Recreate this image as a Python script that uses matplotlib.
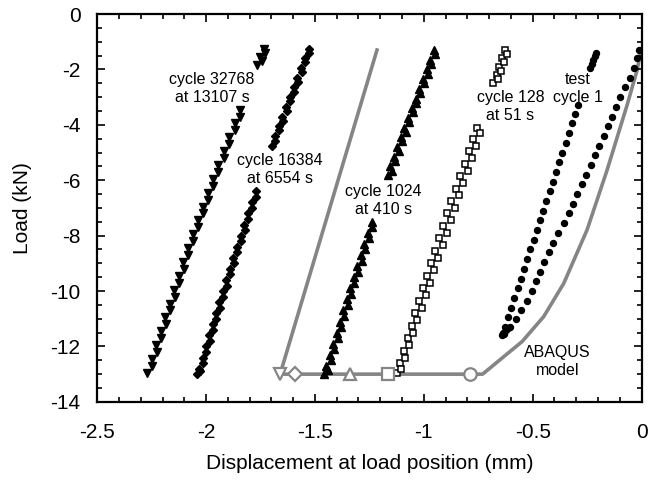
import matplotlib
matplotlib.use("Agg")
import matplotlib.pyplot as plt
from matplotlib.ticker import MultipleLocator

plt.rcParams['font.family'] = ['Liberation Sans', 'DejaVu Sans']

# cycle 32768 (loading branch / unloading branch)
c32768_xa = [-1.736, -1.750, -1.764, -1.842, -1.867, -1.893, -1.918, -1.943, -1.967, -1.991, -2.015, -2.038,
             -2.060, -2.082, -2.104, -2.125, -2.145, -2.166, -2.187, -2.208, -2.228, -2.249, -2.269]
c32768_ya = [-1.25, -1.55, -1.85, -3.45, -3.95, -4.45, -4.95, -5.45, -5.95, -6.45, -6.95, -7.45,
             -7.95, -8.45, -8.95, -9.45, -9.95, -10.45, -10.95, -11.45, -11.95, -12.45, -12.95]
c32768_xb = [-2.247, -2.226, -2.206, -2.185, -2.164, -2.144, -2.123, -2.102, -2.081, -2.059, -2.037,
             -2.014, -1.991, -1.967, -1.943, -1.918, -1.894, -1.868, -1.842, -1.745, -1.731]
c32768_yb = [-12.7, -12.2, -11.7, -11.2, -10.7, -10.2, -9.7, -9.2, -8.7, -8.2, -7.7,
             -7.2, -6.7, -6.2, -5.7, -5.2, -4.7, -4.2, -3.7, -1.7, -1.4]

# cycle 16384
c16384_xa = [-1.529, -1.547, -1.564, -1.581, -1.598, -1.616, -1.633, -1.649, -1.666, -1.682, -1.699,
             -1.772, -1.790, -1.807, -1.825, -1.841, -1.858, -1.875, -1.891, -1.908, -1.924, -1.939,
             -1.955, -1.970, -1.986, -2.001, -2.016, -2.033, -2.041]
c16384_ya = [-1.25, -1.6, -1.95, -2.3, -2.65, -3.0, -3.35, -3.7, -4.05, -4.4, -4.75,
             -6.4, -6.8, -7.2, -7.6, -8.0, -8.4, -8.8, -9.2, -9.6, -10.0, -10.4,
             -10.8, -11.2, -11.6, -12.0, -12.4, -12.8, -13.0]
c16384_xb = [-2.027, -2.015, -1.999, -1.983, -1.968, -1.953, -1.937, -1.922, -1.906, -1.890, -1.873,
             -1.857, -1.840, -1.823, -1.806, -1.789, -1.771, -1.682, -1.663, -1.646, -1.629, -1.613,
             -1.596, -1.579, -1.561, -1.544, -1.527]
c16384_yb = [-12.9, -12.6, -12.2, -11.8, -11.4, -11.0, -10.6, -10.2, -9.8, -9.4, -9.0,
             -8.6, -8.2, -7.8, -7.4, -7.0, -6.6, -4.6, -4.2, -3.85, -3.5, -3.15,
             -2.8, -2.45, -2.1, -1.75, -1.4]

# cycle 1024
c1024_xa = [-0.951, -0.970, -0.987, -1.004, -1.021, -1.038, -1.056, -1.073, -1.089, -1.105, -1.121,
            -1.137, -1.153, -1.166, -1.239, -1.256, -1.273, -1.290, -1.306, -1.322, -1.339, -1.354,
            -1.369, -1.385, -1.400, -1.415, -1.431, -1.447, -1.459]
c1024_ya = [-1.3, -1.65, -2.0, -2.35, -2.7, -3.05, -3.4, -3.75, -4.1, -4.45, -4.8,
            -5.15, -5.5, -5.8, -7.5, -7.9, -8.3, -8.7, -9.1, -9.5, -9.9, -10.3,
            -10.7, -11.1, -11.5, -11.9, -12.3, -12.7, -13.0]
c1024_xb = [-1.441, -1.427, -1.411, -1.396, -1.380, -1.365, -1.350, -1.334, -1.319, -1.303, -1.286,
            -1.270, -1.253, -1.236, -1.147, -1.132, -1.116, -1.101, -1.084, -1.068, -1.051, -1.034,
            -1.017, -0.999, -0.982, -0.965, -0.947]
c1024_yb = [-12.85, -12.5, -12.1, -11.7, -11.3, -10.9, -10.5, -10.1, -9.7, -9.3, -8.9,
            -8.5, -8.1, -7.7, -5.65, -5.3, -4.95, -4.6, -4.25, -3.9, -3.55, -3.2,
            -2.85, -2.5, -2.15, -1.8, -1.45]

# cycle 128
c128_xa = [-0.625, -0.639, -0.653, -0.666, -0.680, -0.755, -0.773, -0.793, -0.813, -0.833, -0.854,
           -0.873, -0.892, -0.911, -0.930, -0.949, -0.967, -0.985, -1.003, -1.020, -1.039, -1.056,
           -1.073, -1.090, -1.109, -1.122]
c128_ya = [-1.3, -1.6, -1.9, -2.2, -2.5, -4.1, -4.5, -4.95, -5.4, -5.85, -6.3,
           -6.75, -7.2, -7.65, -8.1, -8.55, -9.0, -9.45, -9.9, -10.35, -10.8, -11.25,
           -11.7, -12.15, -12.6, -12.95]
c128_xb = [-1.104, -1.087, -1.068, -1.049, -1.029, -1.010, -0.991, -0.972, -0.952, -0.933, -0.914,
           -0.895, -0.876, -0.856, -0.837, -0.818, -0.799, -0.780, -0.760, -0.741, -0.658, -0.645,
           -0.632, -0.619]
c128_yb = [-12.8, -12.4, -11.95, -11.5, -11.05, -10.6, -10.15, -9.7, -9.25, -8.8, -8.35,
           -7.9, -7.45, -7.0, -6.55, -6.1, -5.65, -5.2, -4.75, -4.3, -2.35, -2.05,
           -1.75, -1.45]

# test cycle 1
c1_xa = [-0.010, -0.020, -0.036, -0.055, -0.076, -0.097, -0.117, -0.137, -0.156, -0.174, -0.193,
         -0.212, -0.233, -0.254, -0.275, -0.295, -0.315, -0.335, -0.358, -0.382, -0.405, -0.427,
         -0.447, -0.466, -0.485, -0.505, -0.528, -0.552, -0.578, -0.605, -0.630]
c1_ya = [-1.3, -1.6, -1.95, -2.3, -2.65, -3.0, -3.35, -3.7, -4.05, -4.4, -4.75,
         -5.1, -5.45, -5.8, -6.15, -6.5, -6.85, -7.2, -7.55, -7.9, -8.25, -8.6,
         -8.95, -9.3, -9.65, -10.0, -10.35, -10.7, -11.0, -11.3, -11.55]
c1_xb = [-0.640, -0.636, -0.622, -0.612, -0.628, -0.613, -0.598, -0.584, -0.569, -0.554, -0.540,
         -0.525, -0.510, -0.496, -0.481, -0.466, -0.451, -0.437, -0.422, -0.407, -0.393, -0.378,
         -0.363, -0.349, -0.334, -0.319, -0.304, -0.292, -0.235, -0.228, -0.222, -0.215, -0.211]
c1_yb = [-11.6, -11.5, -11.42, -11.32, -11.3, -10.95, -10.6, -10.25, -9.9, -9.55, -9.2,
         -8.85, -8.5, -8.15, -7.8, -7.45, -7.1, -6.75, -6.4, -6.05, -5.7, -5.35,
         -5.0, -4.65, -4.3, -3.95, -3.6, -3.3, -1.95, -1.8, -1.65, -1.5, -1.4]

# ABAQUS model curve
abq_x = [-1.215, -1.66, -0.73, -0.548, -0.449, -0.357, -0.25, -0.158, -0.066, -0.02, -0.003]
abq_y = [-1.3, -13.0, -13.0, -11.82, -10.92, -9.72, -7.79, -5.63, -3.28, -2.02, -1.3]
# ABAQUS end-of-cycle markers on the plateau
abq_mk_x = [-1.659, -1.590, -1.337, -1.163, -0.786]
abq_mk_y = [-13.0, -13.0, -13.0, -13.0, -13.0]
abq_mk = ['v', 'D', '^', 's', 'o']

labels = ["cycle 32768\nat 13107 s", "cycle 16384\nat 6554 s", "cycle 1024\nat 410 s",
          "cycle 128\nat 51 s", "test\ncycle 1", "ABAQUS\nmodel"]
label_x = [-1.973, -1.660, -1.184, -0.602, -0.293, -0.387]
label_y = [-2.68, -5.62, -6.72, -3.33, -2.68, -12.56]

fig = plt.figure(figsize=(6.48, 4.83), dpi=100)
ax = fig.add_axes([0.150, 0.168, 0.840, 0.803])

grey = '#858585'
ax.plot(abq_x, abq_y, color=grey, lw=2.6, zorder=1)
for mx, my, m in zip(abq_mk_x, abq_mk_y, abq_mk):
    ax.plot(mx, my, marker=m, ms=9 if m != 'D' else 7, mfc='white', mec=grey, mew=1.6,
            ls='none', zorder=3)

blk = 'black'
for xs, ys in [(c32768_xa, c32768_ya), (c32768_xb, c32768_yb)]:
    ax.plot(xs, ys, 'v', color=blk, ms=5.5, ls='none', zorder=2)
for xs, ys in [(c16384_xa, c16384_ya), (c16384_xb, c16384_yb)]:
    ax.plot(xs, ys, 'D', color=blk, ms=4.5, ls='none', zorder=2)
for xs, ys in [(c1024_xa, c1024_ya), (c1024_xb, c1024_yb)]:
    ax.plot(xs, ys, '^', color=blk, ms=5.5, ls='none', zorder=2)
for xs, ys in [(c128_xa, c128_ya), (c128_xb, c128_yb)]:
    ax.plot(xs, ys, 's', mfc='white', mec=blk, mew=1.1, ms=4.8, ls='none', zorder=2)
for xs, ys in [(c1_xa, c1_ya), (c1_xb, c1_yb)]:
    ax.plot(xs, ys, 'o', color=blk, ms=4.3, ls='none', zorder=2)

for t, tx, ty in zip(labels, label_x, label_y):
    ax.text(tx, ty, t, ha='center', va='center', fontsize=11.5, linespacing=1.25)

ax.set_xlim(-2.5, 0)
ax.set_ylim(-14, 0)
ax.xaxis.set_major_locator(MultipleLocator(0.5))
ax.xaxis.set_minor_locator(MultipleLocator(0.1))
ax.yaxis.set_major_locator(MultipleLocator(2))
ax.yaxis.set_minor_locator(MultipleLocator(0.5))
ax.tick_params(which='both', direction='in', top=True, right=True, width=1.2)
ax.tick_params(which='major', length=6)
ax.tick_params(which='minor', length=3.5)
ax.tick_params(axis='x', which='major', pad=15, labelsize=15)
ax.tick_params(axis='y', which='major', pad=12, labelsize=15)
for s in ax.spines.values():
    s.set_linewidth(1.6)

ax.xaxis.set_major_formatter(plt.FuncFormatter(lambda v, p: '0' if abs(v) < 1e-9 else f'{v:g}'))
ax.yaxis.set_major_formatter(plt.FuncFormatter(lambda v, p: '0' if abs(v) < 1e-9 else f'{v:g}'))

ax.set_xlabel('Displacement at load position (mm)', fontsize=15, labelpad=9)
ax.set_ylabel('Load (kN)', fontsize=15, labelpad=13)

fig.savefig('out.png', dpi=100)
